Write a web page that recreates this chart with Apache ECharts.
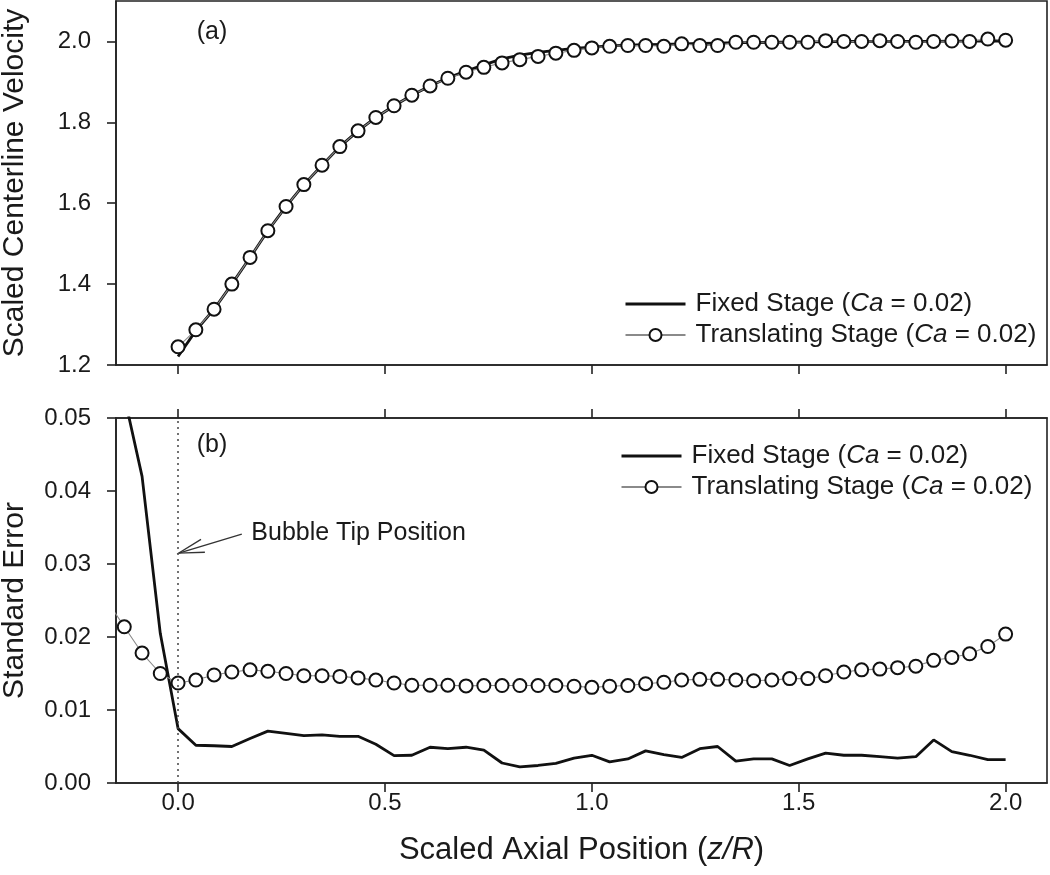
<!DOCTYPE html>
<html><head><meta charset="utf-8">
<script src="https://cdn.jsdelivr.net/npm/echarts@6/dist/echarts.min.js"></script>
<style>html,body{margin:0;padding:0;background:#fff}#c{width:1050px;height:875px}</style>
</head><body><div id="c"></div>
<script>
// ---- data ----
const xPos = [0, 0.043, 0.087, 0.130, 0.174, 0.217, 0.261, 0.304, 0.348, 0.391, 0.435, 0.478, 0.522, 0.565, 0.609, 0.652,
  0.696, 0.739, 0.783, 0.826, 0.870, 0.913, 0.957, 1.000, 1.043, 1.087, 1.130, 1.174, 1.217, 1.261, 1.304, 1.348,
  1.391, 1.435, 1.478, 1.522, 1.565, 1.609, 1.652, 1.696, 1.739, 1.783, 1.826, 1.870, 1.913, 1.957, 2.000];
const xUpstream = [-0.174, -0.130, -0.087, -0.043];

// (a) scaled centerline velocity
const velFixed = [1.221, 1.285, 1.338, 1.400, 1.466, 1.532, 1.592, 1.646, 1.694, 1.740,
  1.779, 1.812, 1.841, 1.867, 1.890, 1.910, 1.927, 1.942, 1.957, 1.966,
  1.973, 1.978, 1.983, 1.986, 1.989, 1.991, 1.992, 1.993, 1.994, 1.995,
  1.996, 1.997, 1.997, 1.998, 1.998, 1.999, 1.999, 2.000, 2.000, 2.000,
  2.000, 2.000, 2.000, 2.001, 2.001, 2.001, 2.001];
const velTrans = [1.245, 1.287, 1.338, 1.400, 1.466, 1.532, 1.592, 1.646, 1.694, 1.740,
  1.779, 1.812, 1.841, 1.867, 1.890, 1.909, 1.924, 1.936, 1.947, 1.955,
  1.963, 1.971, 1.978, 1.984, 1.988, 1.990, 1.990, 1.988, 1.994, 1.990,
  1.990, 1.998, 1.998, 1.998, 1.998, 1.998, 2.002, 2.000, 2.000, 2.002,
  2.000, 1.998, 2.000, 2.001, 2.000, 2.006, 2.003];

// (b) standard error (first values lie upstream of the bubble tip, x < 0)
const errFixedUp = [0.0530, 0.0420, 0.0205];           // x = -0.130, -0.087, -0.043
const errFixed = [0.00745, 0.00517, 0.0051, 0.0050, 0.0061, 0.0071, 0.0068, 0.0065, 0.0066, 0.0064,
  0.0064, 0.0053, 0.00375, 0.0038, 0.0049, 0.0047, 0.0049, 0.0045, 0.00274, 0.0022,
  0.0024, 0.0027, 0.0034, 0.0038, 0.0029, 0.0033, 0.0044, 0.0039, 0.0035, 0.0047,
  0.0050, 0.0030, 0.0033, 0.0033, 0.0024, 0.0033, 0.0041, 0.0038, 0.0038, 0.0036,
  0.0034, 0.0036, 0.0059, 0.0043, 0.0038, 0.0032, 0.0032];
const errTransUp = [0.0252, 0.0214, 0.0178, 0.0150];   // x = -0.174, -0.130, -0.087, -0.043
const errTrans = [0.0137, 0.0141, 0.0148, 0.0152, 0.0155, 0.0153, 0.0150, 0.0147, 0.0147, 0.0146,
  0.0144, 0.0141, 0.0137, 0.0134, 0.0134, 0.0134, 0.0133, 0.01335, 0.01335, 0.01335,
  0.01335, 0.01335, 0.01326, 0.0131, 0.01326, 0.01335, 0.0136, 0.0138, 0.0141, 0.0142,
  0.0142, 0.0141, 0.0140, 0.0141, 0.0143, 0.0143, 0.0147, 0.0152, 0.0155, 0.0156,
  0.0158, 0.0160, 0.0168, 0.0172, 0.0177, 0.0187, 0.0204];

const xTicks = [0, 0.5, 1.0, 1.5, 2.0];
const velTicks = [1.2, 1.4, 1.6, 1.8, 2.0];
const errTicks = [0, 0.01, 0.02, 0.03, 0.04, 0.05];
const bubbleTipX = 0;
const seriesNames = ['Fixed Stage', 'Translating Stage'];

// ---- build ----
const zip = (xs, ys) => ys.map((y, i) => [xs[i], y]);
const FONT = '"Liberation Sans", Arial, Helvetica, sans-serif';
const INK = '#1a1a1a';
const AX = '#222';

const velFixedPts = zip(xPos, velFixed);
const velTransPts = zip(xPos, velTrans);
const errFixedPts = zip(xUpstream.slice(1), errFixedUp).concat(zip(xPos, errFixed));
const errTransPts = zip(xUpstream, errTransUp).concat(zip(xPos, errTrans));

const axisLineStyle = { show: true, onZero: false, lineStyle: { color: AX, width: 1.6 } };
function xAxisCfg(gridIndex, position, labels) {
  return {
    type: 'value', gridIndex, position, min: -0.15, max: 2.1,
    axisLine: axisLineStyle,
    axisTick: { show: true, inside: false, length: 9, customValues: xTicks, lineStyle: { color: AX, width: 1.6 } },
    axisLabel: labels ? { show: true, customValues: xTicks, formatter: v => v.toFixed(1), fontSize: 24, color: INK, fontFamily: FONT, margin: 8 } : { show: false },
    splitLine: { show: false }
  };
}
const legendFormatter = n => '{n|' + n + ' (}{i|Ca}{n| = 0.02)}';
const legendRich = {
  n: { fontSize: 26, fontFamily: FONT, color: INK },
  i: { fontSize: 26, fontFamily: FONT, color: INK, fontStyle: 'italic' }
};
const legendData = [
  { name: seriesNames[0], itemStyle: { opacity: 0 }, lineStyle: { width: 3, color: '#111' } },
  { name: seriesNames[1] }
];

const fixedStyle = { color: '#111', width: 2.8 };
const transLine = { color: '#8a8a8a', width: 1.1 };
const transItem = { color: '#fff', borderColor: '#111', borderWidth: 2 };

const chart = echarts.init(document.getElementById('c'), null, { renderer: 'canvas' });
chart.setOption({
  animation: false,
  backgroundColor: '#fff',
  textStyle: { fontFamily: FONT, color: INK },
  grid: [
    { left: 116, right: 3, top: 1, height: 364, show: true, borderColor: AX, borderWidth: 1.6, backgroundColor: 'transparent', outerBoundsMode: 'none', containLabel: false },
    { left: 116, right: 3, top: 418, height: 365, show: true, borderColor: AX, borderWidth: 1.6, backgroundColor: 'transparent', outerBoundsMode: 'none', containLabel: false }
  ],
  xAxis: [
    xAxisCfg(0, 'bottom', false),
    Object.assign(xAxisCfg(1, 'bottom', true), {
      name: 'Scaled Axial Position ({i|z/R})', nameLocation: 'middle', nameGap: 52,
      nameTextStyle: { fontSize: 31, color: INK, fontFamily: FONT,
        rich: { i: { fontSize: 31, fontStyle: 'italic', color: INK, fontFamily: FONT } } }
    }),
    xAxisCfg(1, 'top', false)
  ],
  yAxis: [
    {
      type: 'value', gridIndex: 0, min: 1.2, max: 2.1,
      axisLine: axisLineStyle,
      axisTick: { show: true, length: 9, customValues: velTicks, lineStyle: { color: AX, width: 1.6 } },
      axisLabel: { customValues: velTicks, formatter: v => v.toFixed(1), fontSize: 24, color: INK, fontFamily: FONT, margin: 25 },
      splitLine: { show: false },
      name: 'Scaled Centerline Velocity', nameLocation: 'middle', nameGap: 86,
      nameTextStyle: { fontSize: 30, color: INK, fontFamily: FONT }
    },
    {
      type: 'value', gridIndex: 1, min: 0, max: 0.05,
      axisLine: axisLineStyle,
      axisTick: { show: true, length: 9, customValues: errTicks, lineStyle: { color: AX, width: 1.6 } },
      axisLabel: { customValues: errTicks, formatter: v => v.toFixed(2), fontSize: 24, color: INK, fontFamily: FONT, margin: 25 },
      splitLine: { show: false },
      name: 'Standard Error', nameLocation: 'middle', nameGap: 86,
      nameTextStyle: { fontSize: 30, color: INK, fontFamily: FONT }
    }
  ],
  legend: [
    { orient: 'vertical', left: 619, top: 286, itemWidth: 60, itemHeight: 15, itemGap: 5,
      data: legendData, formatter: legendFormatter, textStyle: { rich: legendRich, padding: [0, 0, 0, 5] }, selectedMode: false },
    { orient: 'vertical', left: 615, top: 438, itemWidth: 60, itemHeight: 15, itemGap: 5,
      data: legendData, formatter: legendFormatter, textStyle: { rich: legendRich, padding: [0, 0, 0, 5] }, selectedMode: false }
  ],
  series: [
    { name: seriesNames[0], type: 'line', xAxisIndex: 0, yAxisIndex: 0, data: velFixedPts, symbol: 'none',
      lineStyle: fixedStyle, itemStyle: { color: '#111' }, z: 2, clip: true },
    { name: seriesNames[1], type: 'line', xAxisIndex: 0, yAxisIndex: 0, data: velTransPts, symbol: 'circle', symbolSize: 13,
      lineStyle: transLine, itemStyle: transItem, z: 3, clip: true },
    { name: seriesNames[0], type: 'line', xAxisIndex: 1, yAxisIndex: 1, data: errFixedPts, symbol: 'none',
      lineStyle: fixedStyle, itemStyle: { color: '#111' }, z: 2, clip: true,
      markLine: { silent: true, symbol: ['none', 'none'], label: { show: false },
        lineStyle: { type: [2, 4], color: '#444', width: 1.5 }, data: [{ xAxis: bubbleTipX }] } },
    { name: seriesNames[1], type: 'line', xAxisIndex: 1, yAxisIndex: 1, data: errTransPts, symbol: 'circle', symbolSize: 13,
      lineStyle: transLine, itemStyle: transItem, z: 3, clip: true }
  ]
});

// ---- annotations placed in data coordinates ----
const p = (g, x, y) => chart.convertToPixel({ gridIndex: g }, [x, y]);
const pa = p(0, 0.045, 2.024);
const pb = p(1, 0.045, 0.0463);
const tail = p(1, 0.154, 0.0341);
const tip = p(1, bubbleTipX + 0.002, 0.0315);
const txt = p(1, 0.177, 0.0342);
const ang = Math.atan2(tail[1] - tip[1], tail[0] - tip[0]);
const L = 26, spread = 15 * Math.PI / 180;
const arm1 = [tip[0] + L * Math.cos(ang + spread), tip[1] + L * Math.sin(ang + spread)];
const arm2 = [tip[0] + L * Math.cos(ang - spread), tip[1] + L * Math.sin(ang - spread)];
chart.setOption({
  graphic: [
    { type: 'text', x: pa[0], y: pa[1], style: { text: '(a)', fontSize: 25, fontFamily: FONT, fill: INK, align: 'left', verticalAlign: 'middle' } },
    { type: 'text', x: pb[0], y: pb[1], style: { text: '(b)', fontSize: 25, fontFamily: FONT, fill: INK, align: 'left', verticalAlign: 'middle' } },
    { type: 'text', x: txt[0], y: txt[1], style: { text: 'Bubble Tip Position', fontSize: 25, fontFamily: FONT, fill: INK, align: 'left', verticalAlign: 'middle' } },
    { type: 'polyline', shape: { points: [tail, tip] }, style: { stroke: '#333', lineWidth: 1.3, fill: null } },
    { type: 'polyline', shape: { points: [arm1, tip, arm2] }, style: { stroke: '#333', lineWidth: 1.3, fill: null } }
  ]
});
</script>
</body></html>
